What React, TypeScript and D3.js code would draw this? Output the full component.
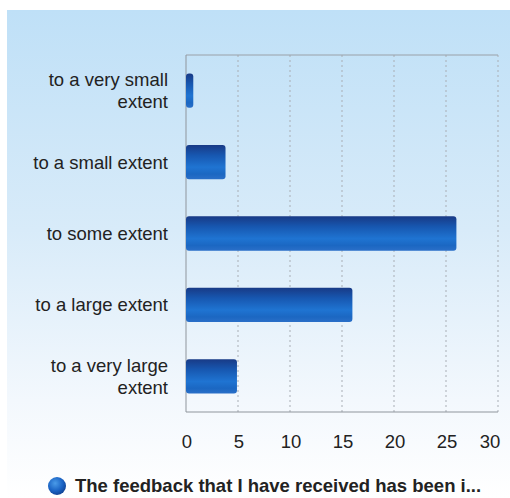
import React from "react";
import * as d3 from "d3";

const categories: string[][] = [
  ["to a very small", "extent"],
  ["to a small extent"],
  ["to some extent"],
  ["to a large extent"],
  ["to a very large", "extent"],
];
const values: number[] = [0.7, 3.8, 26, 16, 4.9];
const ticks: number[] = [0, 5, 10, 15, 20, 25, 30];
const legendLabel = "The feedback that I have received has been i...";

export default function App() {
  const W = 510, H = 498;
  const left = 186, right = 498, top = 55, bottom = 412;
  const x = d3.scaleLinear().domain([0, 30]).range([left, right]);
  const y = d3
    .scaleBand<number>()
    .domain(d3.range(categories.length))
    .range([top, bottom])
    .paddingInner(0.52)
    .paddingOuter(0.26);
  const font = "'Liberation Sans', Arial, sans-serif";
  return (
    <svg width={W} height={H} style={{ position: "absolute", left: 0, top: 0 }}>
      <defs>
        <linearGradient id="bg" x1="0" y1="0" x2="0" y2="1">
          <stop offset="0" stopColor="#bfe0f7" />
          <stop offset="0.45" stopColor="#d8ebf9" />
          <stop offset="0.8" stopColor="#f3f8fd" />
          <stop offset="1" stopColor="#ffffff" />
        </linearGradient>
        <linearGradient id="bar" x1="0" y1="0" x2="0" y2="1">
          <stop offset="0" stopColor="#183a86" />
          <stop offset="0.3" stopColor="#1757b0" />
          <stop offset="0.65" stopColor="#1f74d2" />
          <stop offset="0.85" stopColor="#1b67c2" />
          <stop offset="1" stopColor="#2a6fc8" />
        </linearGradient>
        <radialGradient id="dot" cx="0.4" cy="0.35" r="0.7">
          <stop offset="0" stopColor="#4a9be8" />
          <stop offset="0.6" stopColor="#1a63c4" />
          <stop offset="1" stopColor="#103f8e" />
        </radialGradient>
      </defs>
      <rect x={0} y={0} width={W} height={H} fill="#ffffff" />
      <rect x={7} y={10} width={W - 7} height={H - 10} fill="url(#bg)" />
      {ticks.slice(1).map((t) => (
        <line
          key={t}
          x1={x(t)}
          x2={x(t)}
          y1={top}
          y2={bottom}
          stroke="#a9aeb5"
          strokeWidth={1}
          strokeDasharray="2,3"
        />
      ))}
      <line x1={left} x2={right} y1={top} y2={top} stroke="#9aa0a8" strokeWidth={1} />
      <line x1={left} x2={left} y1={top} y2={bottom} stroke="#8f959c" strokeWidth={1} />
      <line x1={left} x2={right} y1={bottom} y2={bottom} stroke="#8f959c" strokeWidth={1} />
      {values.map((v, i) => (
        <rect
          key={i}
          x={x(0)}
          y={y(i)}
          width={x(v) - x(0)}
          height={y.bandwidth()}
          rx={3}
          fill="url(#bar)"
        />
      ))}
      {categories.map((lines, i) => {
        const cy = (y(i) as number) + y.bandwidth() / 2;
        const lh = 22;
        const start = cy - ((lines.length - 1) * lh) / 2;
        return (
          <text
            key={i}
            textAnchor="end"
            fontFamily={font}
            fontSize={18.5}
            fill="#222"
          >
            {lines.map((l, j) => (
              <tspan key={j} x={168} y={start + j * lh} dy="0.35em">
                {l}
              </tspan>
            ))}
          </text>
        );
      })}
      {ticks.map((t) => (
        <text
          key={t}
          x={t === 30 ? x(t) - 8 : x(t) + 1}
          y={442}
          dy="0.35em"
          textAnchor="middle"
          fontFamily={font}
          fontSize={18.5}
          fill="#222"
        >
          {t}
        </text>
      ))}
      <circle cx={57} cy={486} r={9} fill="url(#dot)" />
      <text
        x={75}
        y={486}
        dy="0.35em"
        fontFamily={font}
        fontSize={18.5}
        fontWeight="bold"
        fill="#222"
      >
        {legendLabel}
      </text>
    </svg>
  );
}
